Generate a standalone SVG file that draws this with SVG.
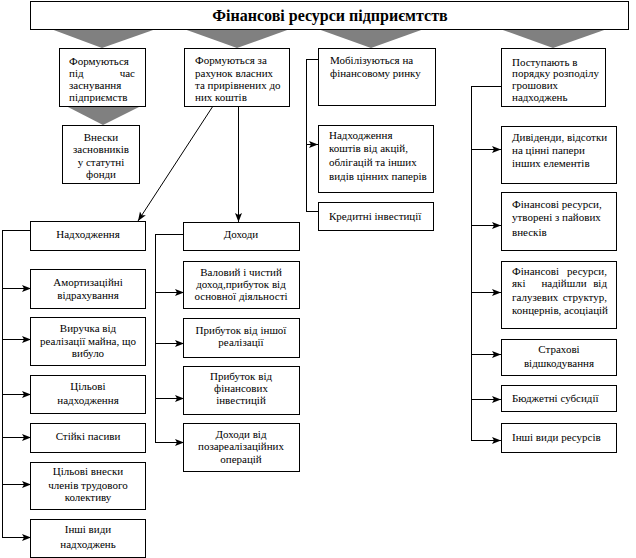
<svg xmlns="http://www.w3.org/2000/svg" width="636" height="558" viewBox="0 0 636 558" font-family="'Liberation Serif', 'DejaVu Serif', serif">
<style>
  .box { fill: #fff; stroke: #000; stroke-width: 1; shape-rendering: crispEdges; }
  .tri { fill: #808080; stroke: none; }
  .ln { fill: none; stroke: #000; stroke-width: 1; }
  .cl { shape-rendering: crispEdges; }
  text { font-family: 'Liberation Serif', 'DejaVu Serif', serif; font-size: 11px; fill: #000; }
  .c { text-anchor: middle; }
  .r { text-anchor: end; }
  .title { font-size: 16px; font-weight: bold; text-anchor: middle; }
</style>
<defs>
  <marker id="ah" markerUnits="userSpaceOnUse" markerWidth="10" markerHeight="8" refX="9" refY="4" orient="auto">
    <path d="M0,0.5 L9,4 L0,7.5 L2,4 z" fill="#000"/>
  </marker>
</defs>
<rect width="636" height="558" fill="#fff"/>

<g id="triangles">
  <polygon class="tri" points="51,29 156,29 102,48"/>
  <polygon class="tri" points="184,29 290,29 237,48"/>
  <polygon class="tri" points="318,29 424,29 371,48"/>
  <polygon class="tri" points="500,29 607,29 553,48"/>
  <polygon class="tri" points="66,106 141,106 103,125"/>
</g>

<g id="connectors">
  <line class="ln" x1="213" y1="106" x2="138" y2="221" marker-end="url(#ah)"/>
  <line class="ln cl" x1="238.5" y1="106" x2="238.5" y2="222" marker-end="url(#ah)"/>
  <polyline class="ln cl" points="318,59.5 306.5,59.5 306.5,211.5 318,211.5"/>
  <line class="ln cl" x1="306.5" y1="144.5" x2="318" y2="144.5" marker-end="url(#ah)"/>
  <polyline class="ln cl" points="501,86.5 471.5,86.5 471.5,440.5"/>
  <line class="ln cl" x1="471.5" y1="149.5" x2="501" y2="149.5" marker-end="url(#ah)"/>
  <line class="ln cl" x1="471.5" y1="225.5" x2="501" y2="225.5" marker-end="url(#ah)"/>
  <line class="ln cl" x1="471.5" y1="292.5" x2="501" y2="292.5" marker-end="url(#ah)"/>
  <line class="ln cl" x1="471.5" y1="354.5" x2="501" y2="354.5" marker-end="url(#ah)"/>
  <line class="ln cl" x1="471.5" y1="399.5" x2="501" y2="399.5" marker-end="url(#ah)"/>
  <line class="ln cl" x1="471.5" y1="440.5" x2="501" y2="440.5" marker-end="url(#ah)"/>
  <polyline class="ln cl" points="31,230.5 2.5,230.5 2.5,537.5"/>
  <line class="ln cl" x1="2.5" y1="288.5" x2="31" y2="288.5" marker-end="url(#ah)"/>
  <line class="ln cl" x1="2.5" y1="339.5" x2="31" y2="339.5" marker-end="url(#ah)"/>
  <line class="ln cl" x1="2.5" y1="394.5" x2="31" y2="394.5" marker-end="url(#ah)"/>
  <line class="ln cl" x1="2.5" y1="437.5" x2="31" y2="437.5" marker-end="url(#ah)"/>
  <line class="ln cl" x1="2.5" y1="484.5" x2="31" y2="484.5" marker-end="url(#ah)"/>
  <line class="ln cl" x1="2.5" y1="537.5" x2="31" y2="537.5" marker-end="url(#ah)"/>
  <polyline class="ln cl" points="184,234.5 155.5,234.5 155.5,442.5"/>
  <line class="ln cl" x1="155.5" y1="292.5" x2="184" y2="292.5" marker-end="url(#ah)"/>
  <line class="ln cl" x1="155.5" y1="343.5" x2="184" y2="343.5" marker-end="url(#ah)"/>
  <line class="ln cl" x1="155.5" y1="398.5" x2="184" y2="398.5" marker-end="url(#ah)"/>
  <line class="ln cl" x1="155.5" y1="442.5" x2="184" y2="442.5" marker-end="url(#ah)"/>
</g>

<g id="title">
  <rect class="box" x="30.5" y="1.5" width="598" height="28"/>
  <text class="title" x="330" y="21">Фінансові ресурси підприємтств</text>
</g>

<g id="box1">
  <rect class="box" x="59.5" y="48.5" width="86" height="57.5"/>
  <text x="69" y="65">Формуються</text>
  <text x="69" y="77">під</text>
  <text class="r" x="135" y="77">час</text>
  <text x="69" y="89">заснування</text>
  <text x="69" y="101">підприємств</text>
</g>

<g id="box-vnesky">
  <rect class="box" x="62.5" y="125.5" width="77" height="58"/>
  <text class="c" x="101" y="141">Внески</text>
  <text class="c" x="101" y="153">засновників</text>
  <text class="c" x="101" y="166">у статутні</text>
  <text class="c" x="101" y="178">фонди</text>
</g>

<g id="box2">
  <rect class="box" x="184.5" y="48.5" width="104.5" height="57.5"/>
  <text x="195" y="64">Формуються за</text>
  <text x="195" y="77">рахунок власних</text>
  <text x="195" y="89">та прирівнених до</text>
  <text x="195" y="101">них коштів</text>
</g>

<g id="box3">
  <rect class="box" x="318.5" y="48.5" width="116.5" height="57"/>
  <text x="330" y="64">Мобілізуються на</text>
  <text x="330" y="77">фінансовому ринку</text>
</g>

<g id="box4">
  <rect class="box" x="501.5" y="48.5" width="104" height="57.5"/>
  <text x="512" y="66">Поступають в</text>
  <text x="512" y="77">порядку розподілу</text>
  <text x="512" y="89">грошових</text>
  <text x="512" y="101">надходжень</text>
</g>

<g id="box-aktsii">
  <rect class="box" x="318.5" y="125.5" width="115" height="66.5"/>
  <text x="329" y="139">Надходження</text>
  <text x="329" y="152">коштів від акцій,</text>
  <text x="329" y="166">облігацій та інших</text>
  <text x="329" y="180">видів цінних паперів</text>
</g>

<g id="box-kredytni">
  <rect class="box" x="318.5" y="202.5" width="115" height="28"/>
  <text x="329" y="220">Кредитні інвестиції</text>
</g>

<g id="box-dyvidendy">
  <rect class="box" x="501.5" y="126.5" width="115" height="57"/>
  <text x="512" y="141">Дивіденди, відсотки</text>
  <text x="512" y="154">на цінні папери</text>
  <text x="512" y="167">інших елементів</text>
</g>

<g id="box-payovi">
  <rect class="box" x="501.5" y="192.5" width="115" height="57.5"/>
  <text x="512" y="208">Фінансові ресурси,</text>
  <text x="512" y="221">утворені з пайових</text>
  <text x="512" y="236">внесків</text>
</g>

<g id="box-haluzevi">
  <rect class="box" x="501.5" y="261.5" width="115" height="66.5"/>
  <text x="512" y="275">Фінансові</text>
  <text class="r" x="607" y="275">ресурси,</text>
  <text x="512" y="287">які</text>
  <text class="c" x="564" y="287">надійшли</text>
  <text class="r" x="607" y="287">від</text>
  <text x="512" y="301">галузевих</text>
  <text class="r" x="607" y="301">структур,</text>
  <text x="512" y="314">концернів, асоціацій</text>
</g>

<g id="box-strakhovi">
  <rect class="box" x="501.5" y="339.5" width="115" height="36"/>
  <text class="c" x="559" y="353">Страхові</text>
  <text class="c" x="559" y="367">відшкодування</text>
</g>

<g id="box-budzhetni">
  <rect class="box" x="501.5" y="385.5" width="115" height="26"/>
  <text x="512" y="402">Бюджетні субсидії</text>
</g>

<g id="box-inshi-resursy">
  <rect class="box" x="501.5" y="423.5" width="115" height="29"/>
  <text x="512" y="441">Інші види ресурсів</text>
</g>

<g id="box-nadkhodzhennia">
  <rect class="box" x="30.5" y="221.5" width="115" height="28.5"/>
  <text class="c" x="88" y="238">Надходження</text>
</g>

<g id="box-amort">
  <rect class="box" x="30.5" y="269.5" width="115" height="38.5"/>
  <text class="c" x="88" y="286">Амортизаційні</text>
  <text class="c" x="88" y="299">відрахування</text>
</g>

<g id="box-vyruchka">
  <rect class="box" x="30.5" y="317.5" width="115" height="47.5"/>
  <text class="c" x="88" y="332">Виручка від</text>
  <text class="c" x="88" y="345">реалізації майна, що</text>
  <text class="c" x="88" y="357">вибуло</text>
</g>

<g id="box-tsilovi">
  <rect class="box" x="30.5" y="375.5" width="115" height="37.5"/>
  <text class="c" x="88" y="390">Цільові</text>
  <text class="c" x="88" y="404">надходження</text>
</g>

<g id="box-stiiki">
  <rect class="box" x="30.5" y="423.5" width="115" height="28.5"/>
  <text class="c" x="88" y="440">Стійкі пасиви</text>
</g>

<g id="box-tsilovi-vnesky">
  <rect class="box" x="30.5" y="462.5" width="115" height="47"/>
  <text class="c" x="88" y="475">Цільові внески</text>
  <text class="c" x="88" y="489">членів трудового</text>
  <text class="c" x="88" y="501">колективу</text>
</g>

<g id="box-inshi-nadkh">
  <rect class="box" x="30.5" y="519.5" width="115" height="37.5"/>
  <text class="c" x="88" y="533">Інші види</text>
  <text class="c" x="88" y="548">надходжень</text>
</g>

<g id="box-dokhody">
  <rect class="box" x="183.5" y="222.5" width="115.5" height="27.5"/>
  <text class="c" x="241" y="238">Доходи</text>
</g>

<g id="box-valovyi">
  <rect class="box" x="183.5" y="261.5" width="115.5" height="46.5"/>
  <text class="c" x="241" y="276">Валовий і чистий</text>
  <text class="c" x="241" y="288">доход,прибуток від</text>
  <text class="c" x="241" y="300">основної діяльності</text>
</g>

<g id="box-inshoi">
  <rect class="box" x="183.5" y="318.5" width="115.5" height="38.5"/>
  <text class="c" x="241" y="334">Прибуток від іншої</text>
  <text class="c" x="241" y="346">реалізації</text>
</g>

<g id="box-finansovykh">
  <rect class="box" x="183.5" y="366.5" width="115.5" height="47.5"/>
  <text class="c" x="241" y="380">Прибуток від</text>
  <text class="c" x="241" y="392">фінансових</text>
  <text class="c" x="241" y="404">інвестицій</text>
</g>

<g id="box-pozareal">
  <rect class="box" x="183.5" y="423.5" width="115.5" height="47.5"/>
  <text class="c" x="241" y="438">Доходи від</text>
  <text class="c" x="241" y="450">позареалізаційних</text>
  <text class="c" x="241" y="463">операцій</text>
</g>
</svg>
